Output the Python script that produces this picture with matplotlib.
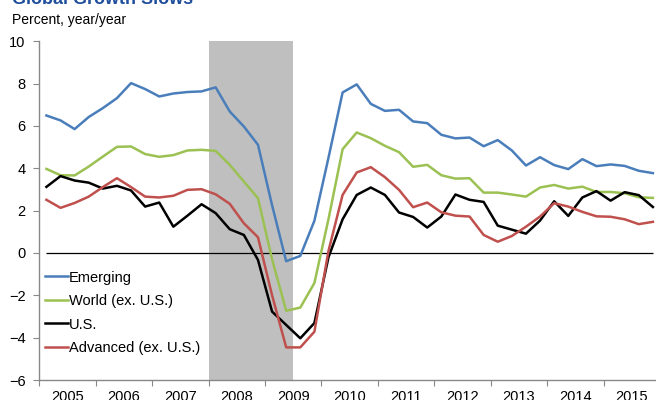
import matplotlib
matplotlib.use("Agg")
import matplotlib.pyplot as plt
import numpy as np

plt.rcParams["font.family"] = ["Liberation Sans", "DejaVu Sans"]

# quarterly, 2005Q1 .. 2015Q4
years = list(range(2005, 2016))
year_labels = [str(y) for y in years]
quarters = np.array([y + (q - 0.5) / 4 for y in years for q in range(1, 5)])

emerging = [6.49, 6.26, 5.85, 6.42, 6.84, 7.31, 8.02, 7.74, 7.39, 7.53, 7.60, 7.63,
            7.82, 6.68, 5.97, 5.11, 2.25, -0.39, -0.14, 1.52, 4.50, 7.58, 7.96, 7.04,
            6.71, 6.76, 6.21, 6.13, 5.58, 5.41, 5.45, 5.04, 5.33, 4.84, 4.13, 4.52,
            4.15, 3.96, 4.43, 4.10, 4.18, 4.11, 3.88, 3.77]
world_ex_us = [3.97, 3.67, 3.66, 4.08, 4.55, 5.01, 5.03, 4.67, 4.54, 4.62, 4.84, 4.87,
               4.82, 4.16, 3.37, 2.59, -0.30, -2.73, -2.58, -1.42, 1.60, 4.90, 5.69, 5.42,
               5.06, 4.76, 4.07, 4.16, 3.67, 3.51, 3.53, 2.85, 2.85, 2.76, 2.66, 3.09,
               3.21, 3.04, 3.13, 2.88, 2.88, 2.82, 2.63, 2.60]
us = [3.12, 3.63, 3.42, 3.32, 3.04, 3.17, 2.95, 2.19, 2.38, 1.24, 1.76, 2.30,
      1.88, 1.12, 0.85, -0.33, -2.77, -3.40, -4.03, -3.31, -0.20, 1.59, 2.74, 3.09,
      2.74, 1.91, 1.70, 1.20, 1.72, 2.76, 2.51, 2.41, 1.29, 1.10, 0.91, 1.53,
      2.44, 1.75, 2.62, 2.92, 2.47, 2.87, 2.73, 2.17]
advanced_ex_us = [2.51, 2.13, 2.36, 2.66, 3.11, 3.53, 3.11, 2.66, 2.62, 2.70, 2.98, 3.01,
                  2.77, 2.32, 1.40, 0.74, -2.00, -4.46, -4.46, -3.72, 0.10, 2.74, 3.80, 4.05,
                  3.58, 2.98, 2.16, 2.38, 1.92, 1.76, 1.72, 0.85, 0.53, 0.80, 1.24, 1.72,
                  2.35, 2.19, 1.94, 1.73, 1.71, 1.59, 1.36, 1.47]
recession = (2008.0, 2009.5)

fig = plt.figure(figsize=(6.56, 4.0), dpi=100)
ax = fig.add_axes([0.06, 0.05, 0.94, 0.847])

ax.axvspan(*recession, color="#bfbfbf", lw=0, zorder=0)
ax.hlines(0, quarters[0], quarters[-1], color="black", lw=0.9, zorder=1)

ax.plot(quarters, emerging, color="#4a7ebb", lw=1.8, label="Emerging", zorder=3)
ax.plot(quarters, world_ex_us, color="#9bc153", lw=1.8, label="World (ex. U.S.)", zorder=3)
ax.plot(quarters, us, color="black", lw=1.8, label="U.S.", zorder=3)
ax.plot(quarters, advanced_ex_us, color="#c0504d", lw=1.8, label="Advanced (ex. U.S.)", zorder=3)

ax.set_xlim(2005.0, 2015.93)
ax.set_ylim(-6, 10)
ax.set_yticks(range(-6, 11, 2))
ax.set_xticks(years)
ax.set_xticklabels([])
ax.set_xticks([y + 0.5 for y in years], minor=True)
ax.set_xticklabels(year_labels, minor=True)
ax.tick_params(axis="x", which="major", length=4, color="#888888", direction="out")
ax.tick_params(axis="x", which="minor", length=0, pad=7, labelsize=10.5)
ax.tick_params(axis="y", length=4, color="#888888", direction="out", pad=6, labelsize=10.5)

for side in ("top", "right"):
    ax.spines[side].set_visible(False)
for side in ("left", "bottom"):
    ax.spines[side].set_color("#888888")
    ax.spines[side].set_linewidth(1.0)

ax.legend(loc="upper left", bbox_to_anchor=(0.009, 0.323), frameon=False,
          fontsize=10.5, handlelength=1.6, handletextpad=0.05,
          labelspacing=0.65, borderpad=0, borderaxespad=0)

fig.text(0.018, 1 - 4 / 400, "Global Growth Slows", fontsize=13, fontweight="bold",
         color="#1f4e9c", va="baseline", ha="left")
fig.text(0.018, 1 - 24 / 400, "Percent, year/year", fontsize=10,
         va="baseline", ha="left")

fig.savefig("out.png", dpi=100)
